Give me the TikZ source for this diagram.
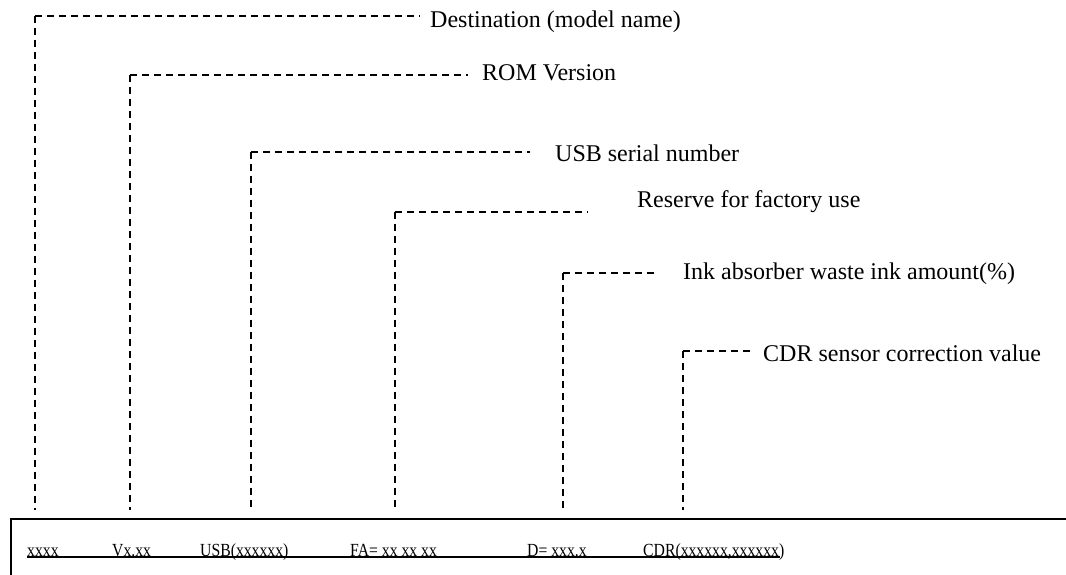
\documentclass[tikz,border=0pt]{standalone}
\usepackage{fontspec}
\setmainfont{Liberation Serif}
\newfontfamily\condfont[FakeStretch=0.85]{Liberation Serif}
\begin{document}
\begin{tikzpicture}[x=1pt,y=-1pt,
  leader/.style={line width=1.5pt,dash pattern=on 7pt off 5pt},
  lbl/.style={anchor=base west,inner sep=0pt,font=\fontsize{24}{28}\selectfont},
  val/.style={anchor=base west,inner sep=0pt,font=\condfont\fontsize{18.5}{21}\selectfont},
  frame/.style={line width=1.8pt},
  uline/.style={line width=1.3pt}]
\useasboundingbox (0,0) rectangle (1066,574);
% labels
\node[lbl] (l1) at (430,27) {Destination (model name)};
\node[lbl] (l2) at (482,80) {ROM Version};
\node[lbl] (l3) at (555,161) {USB serial number};
\node[lbl] (l4) at (637,207) {Reserve for factory use};
\node[lbl] (l5) at (683,279) {Ink absorber waste ink amount(\%)};
\node[lbl] (l6) at (763,361) {CDR sensor correction value};
% line ends
\coordinate (e1) at (420,16);
\coordinate (e2) at (468,75);
\coordinate (e3) at (530,152);
\coordinate (e4) at (588,212);
\coordinate (e5) at (658,273);
\coordinate (e6) at (754,351);
\coordinate (b1) at (35,510);
\coordinate (b2) at (130,510);
\coordinate (b3) at (251,510);
\coordinate (b4) at (395,510);
\coordinate (b5) at (563,510);
\coordinate (b6) at (683,510);
\draw[leader] (b1 |- e1) -- (e1);
\draw[leader] (b1 |- e1) -- (b1);
\draw[leader] (b2 |- e2) -- (e2);
\draw[leader] (b2 |- e2) -- (b2);
\draw[leader] (b3 |- e3) -- (e3);
\draw[leader] (b3 |- e3) -- (b3);
\draw[leader] (b4 |- e4) -- (e4);
\draw[leader] (b4 |- e4) -- (b4);
\draw[leader] (b5 |- e5) -- (e5);
\draw[leader] (b5 |- e5) -- (b5);
\draw[leader] (b6 |- e6) -- (e6);
\draw[leader] (b6 |- e6) -- (b6);
% frame
\coordinate (fr) at (1070,519);
\coordinate (fl) at (11,519);
\coordinate (fb) at (11,580);
\draw[frame] (fr) -- (fl) -- (fb);
% values
\node[val] (v1) at (27,556) {xxxx};
\node[val] (v2) at (112,556) {Vx.xx};
\node[val] (v3) at (200,556) {USB(xxxxxx)};
\node[val] (v4) at (350,556) {FA= xx xx xx};
\node[val] (v5) at (527,556) {D= xxx.x};
\node[val] (v6) at (643,556) {CDR(xxxxxx,xxxxxx)};
\coordinate (u1) at (27,557);
\coordinate (u2) at (780,557);
\draw[uline] (u1) -- (u2);
\end{tikzpicture}
\end{document}
